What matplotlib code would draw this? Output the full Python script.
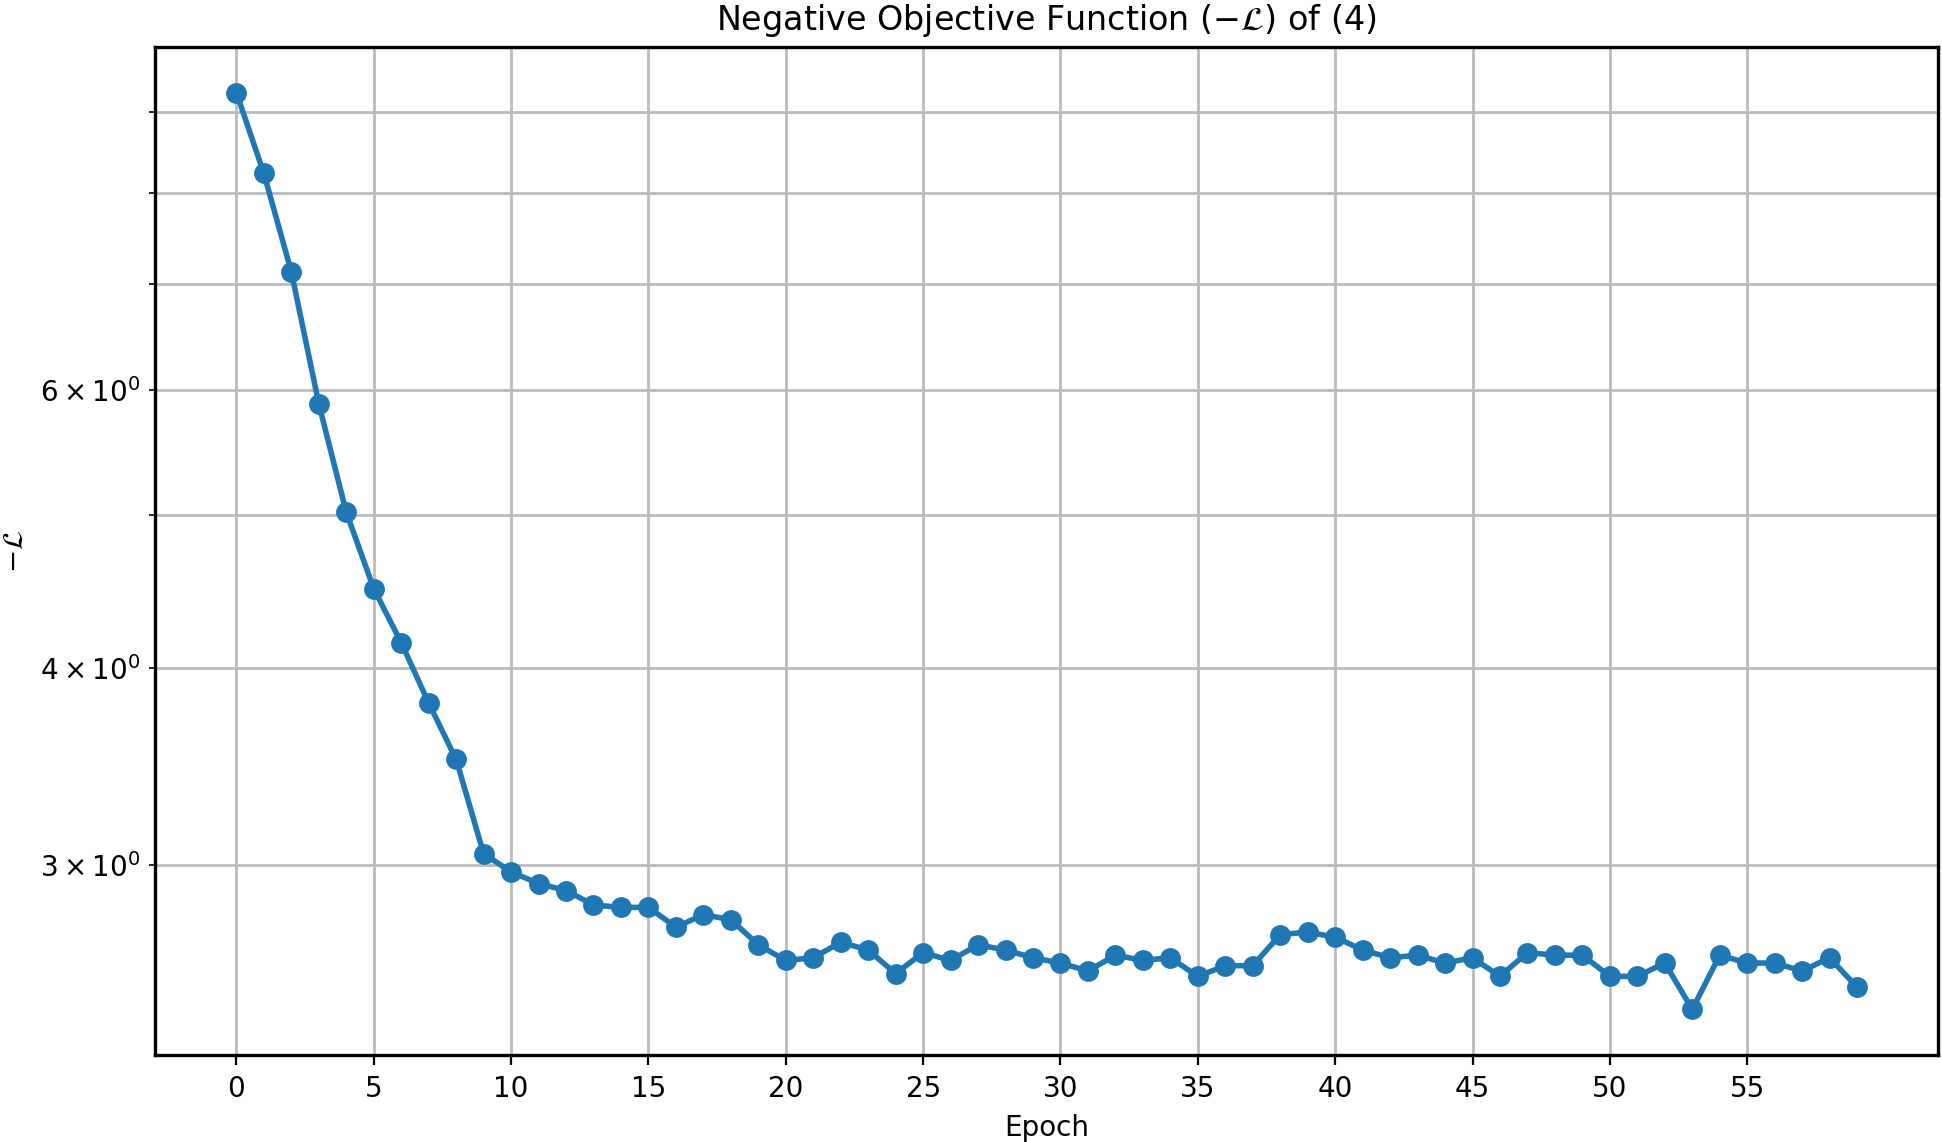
import matplotlib
matplotlib.use("Agg")
import matplotlib.pyplot as plt

epochs = list(range(60))
neg_loss = [9.26, 8.23, 7.13, 5.88, 5.02, 4.49, 4.15, 3.80, 3.50, 3.05,
            2.97, 2.92, 2.89, 2.83, 2.82, 2.82, 2.74, 2.79, 2.77, 2.67,
            2.61, 2.62, 2.68, 2.65, 2.56, 2.64, 2.61, 2.67, 2.65, 2.62,
            2.60, 2.57, 2.63, 2.61, 2.62, 2.55, 2.59, 2.59, 2.71, 2.72,
            2.70, 2.65, 2.62, 2.63, 2.60, 2.62, 2.55, 2.64, 2.63, 2.63,
            2.55, 2.55, 2.60, 2.43, 2.63, 2.60, 2.60, 2.57, 2.62, 2.51]
xticks = list(range(0, 60, 5))

fig = plt.figure(figsize=(9.71, 5.71), dpi=200)
ax = fig.add_axes([0.080, 0.076, 0.918, 0.883])
ax.plot(epochs, neg_loss, marker='o', color='#1f77b4', linewidth=2, markersize=6.5)
ax.set_yscale('log')
ax.set_xticks(xticks)
ax.grid(True, which='both', color='#bbbbbb', linewidth=1)
ax.set_title(r'Negative Objective Function ($-\mathcal{L}$) of (4)')
ax.set_xlabel('Epoch')
ax.set_ylabel(r'$-\mathcal{L}$')
for s in ax.spines.values():
    s.set_linewidth(1.2)
fig.savefig('out.png', dpi=200)
